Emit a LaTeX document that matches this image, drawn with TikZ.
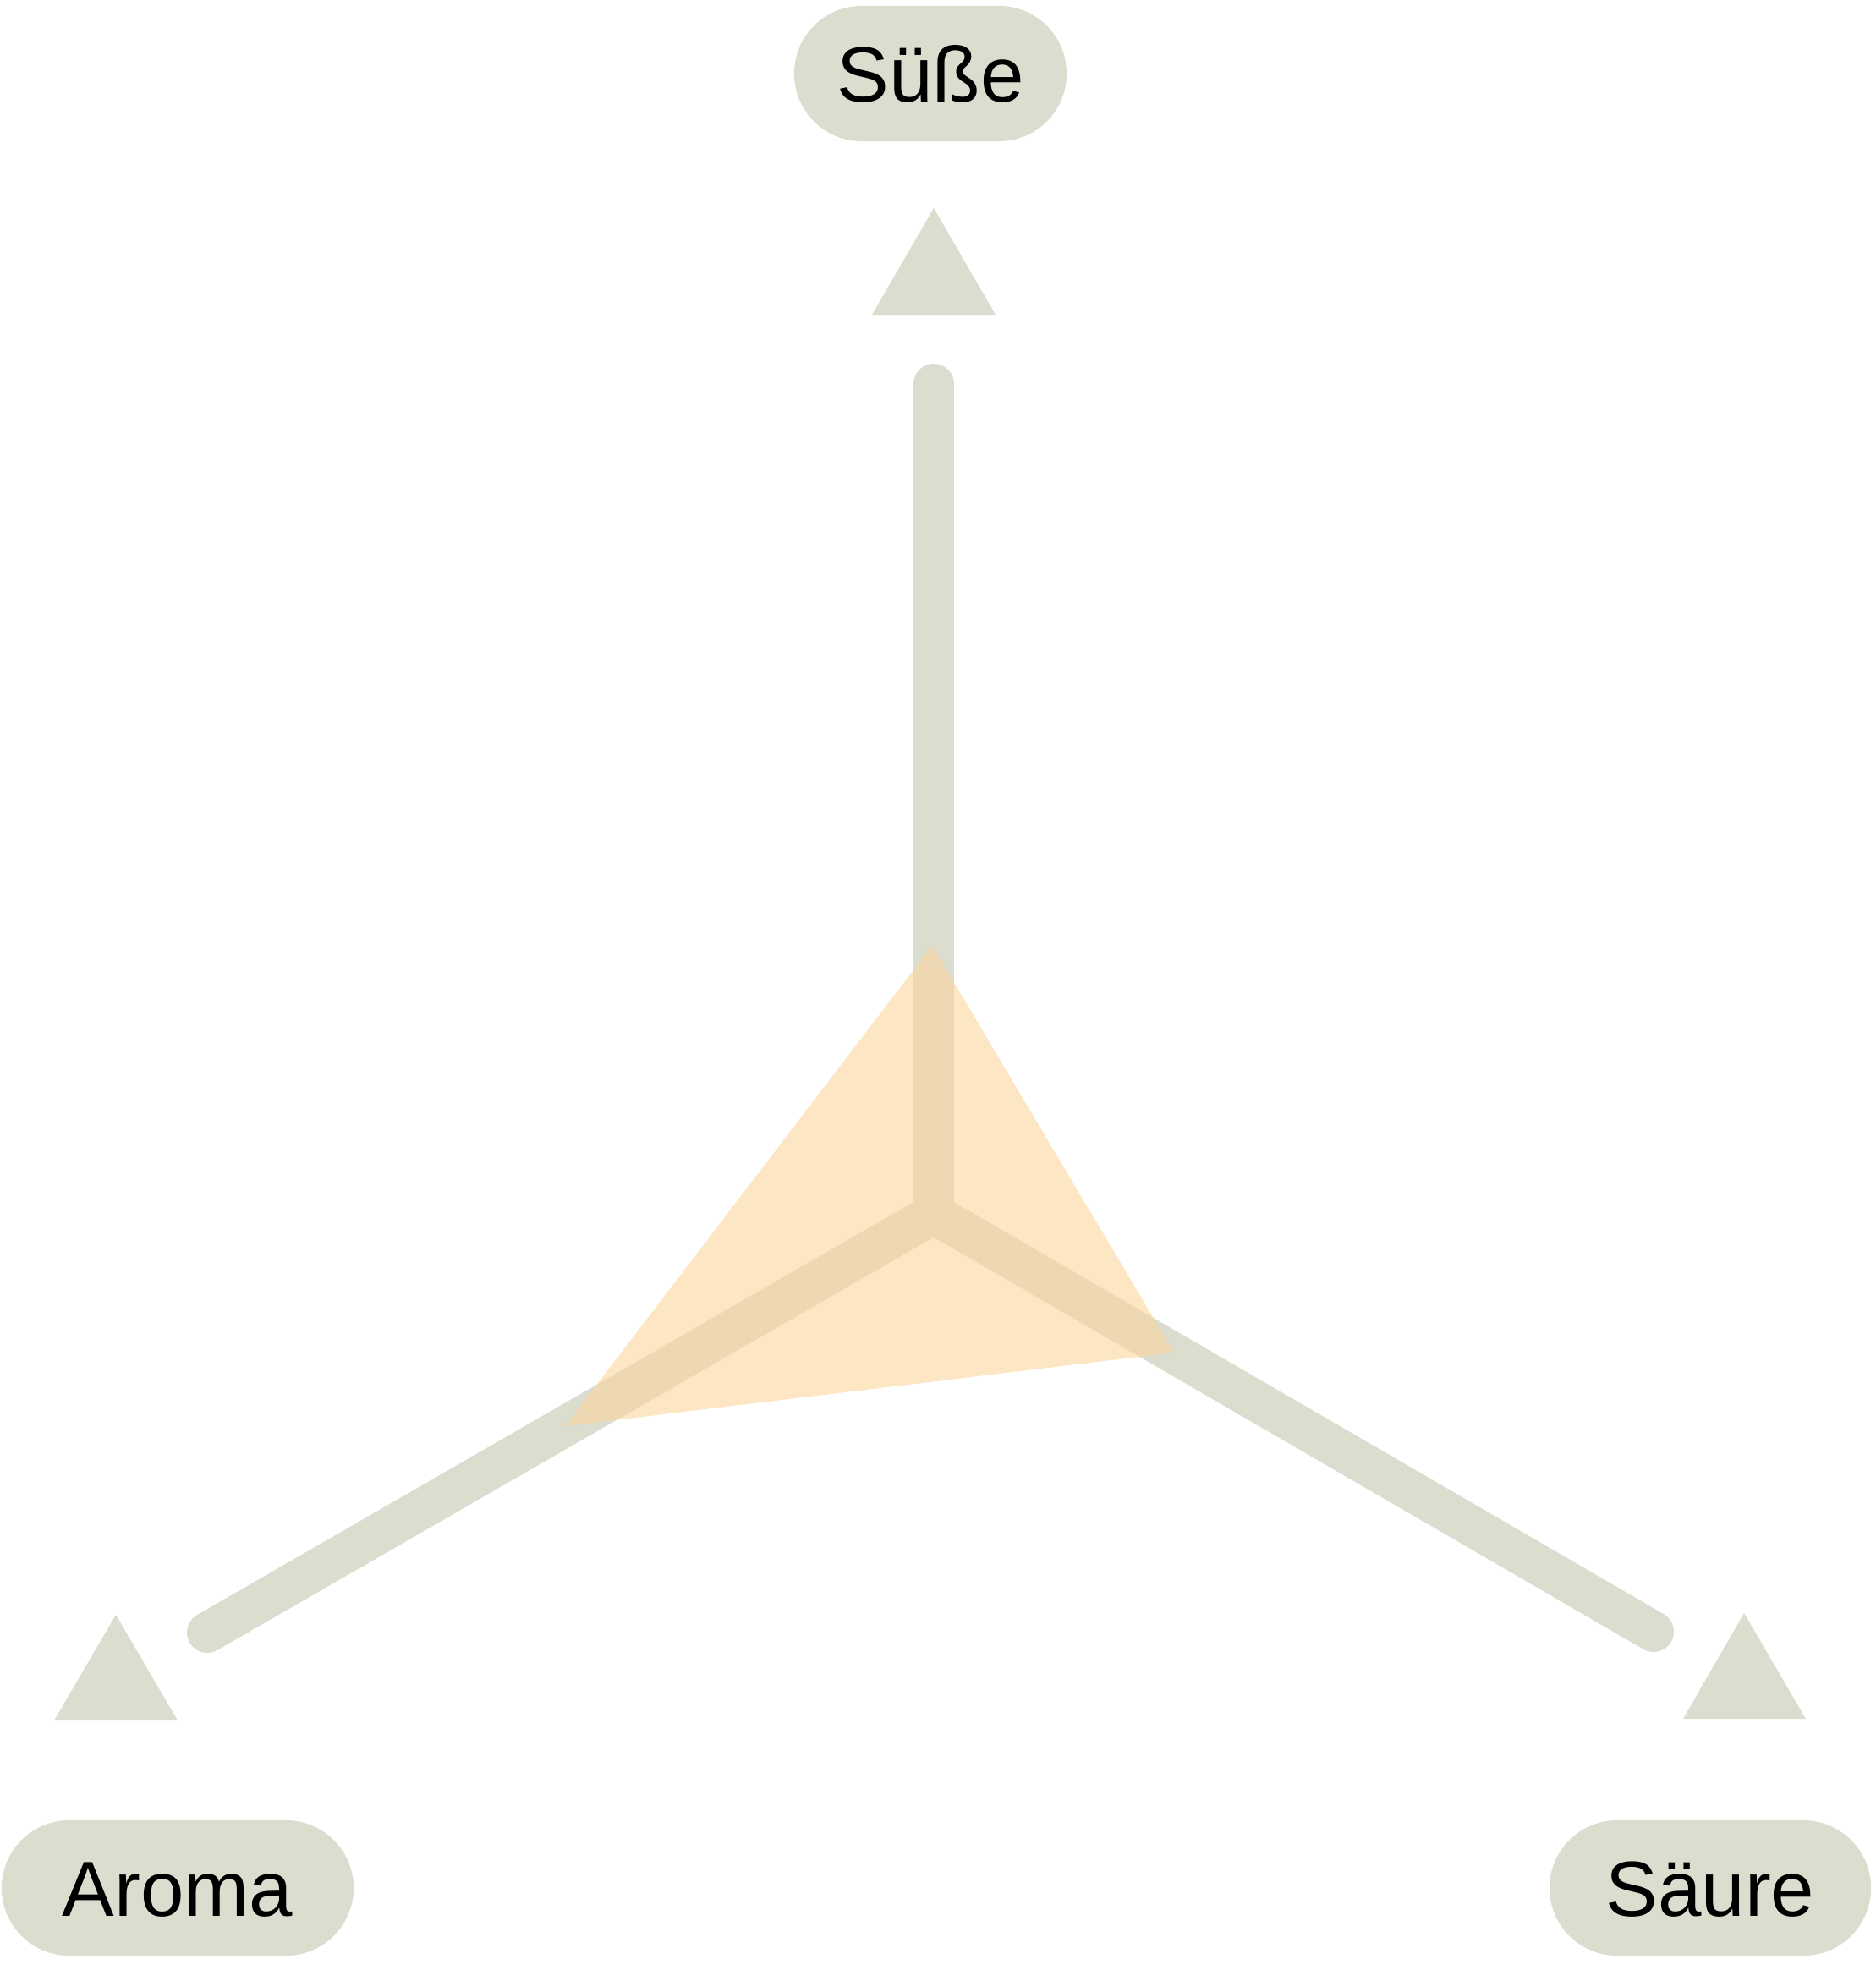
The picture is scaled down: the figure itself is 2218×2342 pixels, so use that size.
\documentclass[tikz,border=0pt]{standalone}
\usepackage{fontspec}
\setmainfont{Liberation Sans}
\definecolor{axisgray}{RGB}{219,221,207}
\definecolor{petal}{RGB}{252,213,157}
\begin{document}
\begin{tikzpicture}[x=0.01cm,y=-0.01cm,
  axis/.style={draw=axisgray,line width=0.48cm,line cap=round},
  marker/.style={fill=axisgray},
  pill/.style={fill=axisgray,rounded corners=0.8cm,minimum height=1.6cm,inner sep=0pt,
    text height=0.66cm,text depth=0pt,font=\fontsize{26.3}{30}\selectfont},
  area/.style={fill=petal,fill opacity=0.6}]
\useasboundingbox (0,0) rectangle (2218,2342);
\coordinate (C) at (1104,1435);
\coordinate (Etop) at (1104,454);
\coordinate (Eleft) at (245,1930);
\coordinate (Eright) at (1955,1929);
\draw[axis] (C) -- (Etop);
\draw[axis] (C) -- (Eleft);
\draw[axis] (C) -- (Eright);
\fill[marker] (1104,246) -- (1177,372) -- (1031,372) -- cycle;
\fill[marker] (137,1909) -- (210,2034) -- (64,2034) -- cycle;
\fill[marker] (2062,1907) -- (2135,2032) -- (1990,2032) -- cycle;
\coordinate (Ptop) at (1102,1118);
\coordinate (Pright) at (1388,1599);
\coordinate (Pleft) at (668,1686);
\fill[area] (Ptop) -- (Pright) -- (Pleft) -- cycle;
\node[pill,minimum width=3.22cm] (suesse) at (1100,87) {Süße};
\node[pill,minimum width=4.16cm] (aroma) at (210,2232) {Aroma};
\node[pill,minimum width=3.80cm] (saeure) at (2022,2232) {Säure};
\end{tikzpicture}
\end{document}
